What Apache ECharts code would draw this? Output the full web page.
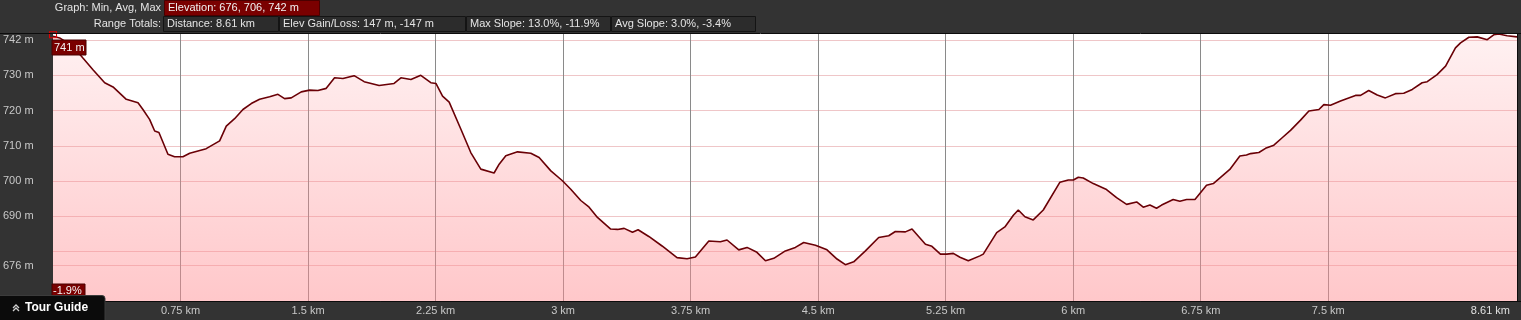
<!DOCTYPE html>
<html>
<head>
<meta charset="utf-8">
<script src="https://cdn.jsdelivr.net/npm/echarts@6/dist/echarts.min.js"></script>
<style>
  html, body { margin: 0; padding: 0; background: #333333; }
  #chart { width: 1521px; height: 320px; }
</style>
</head>
<body>
<div id="chart"></div>
<script>
// ---- data ----
const distKm = [
  0.000, 0.039, 0.118, 0.176, 0.235, 0.304, 0.353, 0.431, 0.500, 0.529,
  0.568, 0.598, 0.623, 0.676, 0.715, 0.764, 0.804, 0.901, 0.980, 1.019,
  1.068, 1.117, 1.166, 1.215, 1.274, 1.323, 1.362, 1.401, 1.460, 1.509,
  1.558, 1.607, 1.656, 1.705, 1.771, 1.830, 1.918, 2.006, 2.046, 2.105,
  2.163, 2.222, 2.252, 2.291, 2.330, 2.399, 2.457, 2.516, 2.594, 2.624,
  2.663, 2.732, 2.810, 2.859, 2.928, 2.996, 3.045, 3.104, 3.153, 3.202,
  3.280, 3.320, 3.359, 3.408, 3.441, 3.504, 3.582, 3.670, 3.729, 3.778,
  3.857, 3.925, 3.964, 4.033, 4.082, 4.140, 4.190, 4.239, 4.307, 4.366,
  4.415, 4.484, 4.552, 4.611, 4.660, 4.709, 4.778, 4.856, 4.915, 4.954,
  5.013, 5.052, 5.131, 5.169, 5.219, 5.256, 5.295, 5.334, 5.383, 5.451,
  5.471, 5.550, 5.598, 5.648, 5.677, 5.716, 5.765, 5.824, 5.922, 5.971,
  6.001, 6.030, 6.059, 6.118, 6.196, 6.255, 6.314, 6.373, 6.412, 6.451,
  6.490, 6.520, 6.588, 6.627, 6.667, 6.716, 6.784, 6.824, 6.921, 6.980,
  7.019, 7.043, 7.092, 7.131, 7.180, 7.229, 7.278, 7.337, 7.386, 7.445,
  7.474, 7.513, 7.572, 7.660, 7.690, 7.738, 7.788, 7.836, 7.895, 7.944,
  7.994, 8.052, 8.082, 8.140, 8.190, 8.248, 8.278, 8.327, 8.376, 8.435,
  8.473, 8.503, 8.552, 8.610
];
const elevM = [
  741.1, 740.6, 738.2, 734.9, 731.6, 727.9, 726.7, 723.2, 722.2, 720.3,
  717.5, 714.2, 713.8, 707.6, 706.9, 706.9, 707.9, 709.2, 711.4, 715.6,
  717.7, 720.3, 722.0, 723.2, 723.9, 724.6, 723.4, 723.6, 725.3, 725.8,
  725.7, 726.3, 729.3, 729.1, 729.9, 728.2, 727.1, 727.7, 729.3, 728.8,
  730.0, 727.9, 727.7, 724.1, 722.4, 714.7, 708.1, 703.4, 702.3, 704.8,
  707.2, 708.3, 707.9, 706.7, 702.9, 700.1, 697.7, 694.5, 692.6, 689.7,
  686.4, 686.3, 686.6, 685.5, 686.2, 684.3, 681.6, 678.3, 678.0, 678.5,
  683.0, 682.8, 683.3, 680.5, 681.2, 679.8, 677.4, 678.1, 680.2, 681.2,
  682.6, 681.8, 680.5, 677.9, 676.3, 677.1, 680.2, 684.0, 684.5, 685.7,
  685.6, 686.4, 682.1, 681.5, 679.3, 679.3, 679.5, 678.4, 677.4, 678.8,
  679.3, 685.4, 687.0, 690.3, 691.8, 689.9, 689.0, 691.8, 699.7, 700.3,
  700.3, 701.1, 700.9, 699.3, 697.6, 695.3, 693.4, 694.1, 692.6, 693.2,
  692.3, 693.2, 694.8, 694.3, 694.8, 694.8, 698.8, 699.3, 703.3, 707.1,
  707.4, 707.8, 708.1, 709.3, 710.2, 712.3, 714.4, 717.3, 719.9, 720.3,
  721.7, 721.5, 722.7, 724.3, 724.3, 725.7, 724.4, 723.6, 724.8, 724.9,
  726.0, 727.9, 728.2, 730.2, 732.6, 737.8, 739.2, 740.8, 740.9, 740.1,
  741.5, 741.7, 741.2, 740.9
];
const xTickKm = [0.75, 1.5, 2.25, 3, 3.75, 4.5, 5.25, 6, 6.75, 7.5];
const xLabelKm = [0.75, 1.5, 2.25, 3, 3.75, 4.5, 5.25, 6, 6.75, 7.5, 8.61];
const yGridM = [676, 680, 690, 700, 710, 720, 730, 740];
const yLabelM = [676, 690, 700, 710, 720, 730, 742];
const headerRow1 = ['Graph: Min, Avg, Max', 'Elevation: 676, 706, 742 m'];
const headerRow2Title = 'Range Totals:';
const headerRow2 = ['Distance: 8.61 km', 'Elev Gain/Loss: 147 m, -147 m', 'Max Slope: 13.0%, -11.9%', 'Avg Slope: 3.0%, -3.4%'];
const startLabel = '741 m';
const slopeLabel = '-1.9%';
const buttonLabel = 'Tour Guide';

const FONT = '"Liberation Sans", Arial, sans-serif';
const seriesData = distKm.map((d, i) => [d, elevM[i]]);
const xMax = distKm[distKm.length - 1];

// header boxes layout
const row2Boxes = [[163, 115], [279, 186], [466, 144], [611, 144]];
const graphics = [];
graphics.push({ type: 'text', left: null, x: 161, y: 8, style: { text: headerRow1[0], fill: '#e4e4e4', font: '11px ' + FONT, align: 'right', verticalAlign: 'middle' } });
graphics.push({ type: 'rect', shape: { x: 164.5, y: 0.5, width: 155, height: 15 }, style: { fill: '#7a0000', stroke: '#4a0000', lineWidth: 1 } });
graphics.push({ type: 'text', x: 168, y: 8, style: { text: headerRow1[1], fill: '#f0f0f0', font: '11px ' + FONT, verticalAlign: 'middle' } });
graphics.push({ type: 'text', x: 161, y: 23.5, style: { text: headerRow2Title, fill: '#e4e4e4', font: '11px ' + FONT, align: 'right', verticalAlign: 'middle' } });
headerRow2.forEach((t, i) => {
  const [bx, bw] = row2Boxes[i];
  graphics.push({ type: 'rect', shape: { x: bx + 0.5, y: 16.5, width: bw, height: 15 }, style: { fill: '#2c2c2c', stroke: '#141414', lineWidth: 1 } });
  graphics.push({ type: 'text', x: bx + 4, y: 24, style: { text: t, fill: '#e4e4e4', font: '11px ' + FONT, verticalAlign: 'middle' } });
});
// frame lines spanning full width
graphics.push({ type: 'line', shape: { x1: 0, y1: 33.5, x2: 1521, y2: 33.5 }, style: { stroke: '#0c0c0c', lineWidth: 1 }, z: 10 });
graphics.push({ type: 'line', shape: { x1: 0, y1: 301.5, x2: 1521, y2: 301.5 }, style: { stroke: '#0c0c0c', lineWidth: 1 }, z: 10 });
graphics.push({ type: 'line', shape: { x1: 1517.5, y1: 33, x2: 1517.5, y2: 302 }, style: { stroke: '#0c0c0c', lineWidth: 1 }, z: 10 });
// value tags
graphics.push({ type: 'rect', shape: { x: 52, y: 40, width: 34, height: 15 }, style: { fill: '#7a0000', stroke: '#4a0000', lineWidth: 1 }, z: 20 });
graphics.push({ type: 'text', x: 54, y: 48, style: { text: startLabel, fill: '#f4f4f4', font: '11px ' + FONT, verticalAlign: 'middle' }, z: 21 });
graphics.push({ type: 'rect', shape: { x: 52, y: 284, width: 33, height: 14 }, style: { fill: '#7a0000', stroke: '#4a0000', lineWidth: 1 }, z: 20 });
graphics.push({ type: 'text', x: 53, y: 291, style: { text: slopeLabel, fill: '#f4f4f4', font: '11px ' + FONT, verticalAlign: 'middle' }, z: 21 });
// tour guide button
graphics.push({ type: 'rect', shape: { x: -1, y: 295.5, width: 106, height: 26, r: [0, 3, 0, 0] }, style: { fill: '#0b0b0b', stroke: '#3c3c3c', lineWidth: 1 }, z: 30 });
graphics.push({ type: 'polyline', shape: { points: [[13, 308], [16, 305], [19, 308]] }, style: { stroke: '#d0d0d0', lineWidth: 1.3, fill: null }, z: 31 });
graphics.push({ type: 'polyline', shape: { points: [[13, 311], [16, 308], [19, 311]] }, style: { stroke: '#d0d0d0', lineWidth: 1.3, fill: null }, z: 31 });
graphics.push({ type: 'text', x: 25, y: 308, style: { text: buttonLabel, fill: '#ffffff', font: 'bold 12px ' + FONT, verticalAlign: 'middle' }, z: 31 });

const chart = echarts.init(document.getElementById('chart'), null, { renderer: 'canvas' });
chart.setOption({
  backgroundColor: '#333333',
  animation: false,
  grid: { left: 52, right: 4, top: 33, bottom: 19, show: true, backgroundColor: '#ffffff', borderWidth: 0 },
  xAxis: {
    type: 'value', min: 0, max: xMax,
    axisLine: { show: false },
    axisTick: { show: false, customValues: xTickKm },
    splitLine: { show: true, lineStyle: { color: '#8a8a8a', width: 1 } },
    axisLabel: {
      customValues: xLabelKm,
      color: '#c8c8c8', fontFamily: FONT, fontSize: 11, margin: 4,
      alignMaxLabel: 'right',
      formatter: v => (v === xMax ? '{r|' + v + ' km}' : v + ' km'),
      rich: { r: { color: '#e0e0e0', fontFamily: FONT, fontSize: 11, padding: [0, 7, 0, 0] } }
    }
  },
  yAxis: {
    type: 'value', min: 666, max: 742,
    axisLine: { show: false },
    axisTick: { show: false, customValues: yGridM },
    splitLine: { show: true, lineStyle: { color: '#efc6c8', width: 1 } },
    axisLabel: {
      customValues: yLabelM,
      color: '#c8c8c8', fontFamily: FONT, fontSize: 11, margin: 50, align: 'left',
      formatter: v => (v === 742 ? '{t|' + v + ' m}' : v + ' m'),
      rich: { t: { color: '#c8c8c8', fontFamily: FONT, fontSize: 11, padding: [13, 0, 0, 0] } }
    }
  },
  series: [{
    type: 'line',
    data: seriesData,
    showSymbol: false,
    smooth: false,
    lineStyle: { color: '#6a0006', width: 1.6 },
    areaStyle: {
      color: {
        type: 'linear', x: 0, y: 33, x2: 0, y2: 301, global: true,
        colorStops: [
          { offset: 0, color: 'rgba(255,140,145,0.17)' },
          { offset: 1, color: 'rgba(255,140,145,0.69)' }
        ]
      }
    },
    markPoint: {
      silent: true,
      symbol: 'rect', symbolSize: [7, 6],
      itemStyle: { color: 'rgba(0,0,0,0)', borderColor: '#e00000', borderWidth: 1 },
      label: { show: false },
      data: [{ coord: [distKm[0], elevM[0] + 0.4] }]
    }
  }],
  graphic: graphics
});
</script>
</body>
</html>
